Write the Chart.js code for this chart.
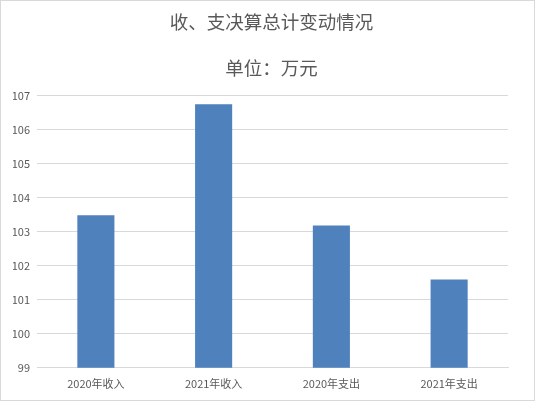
<!DOCTYPE html>
<html>
<head>
<meta charset="utf-8">
<script src="https://cdn.jsdelivr.net/npm/chart.js@4"></script>
<style>
html,body{margin:0;padding:0;background:#fff;}
#wrap{position:relative;width:533px;height:399px;border:1px solid #d9d9d9;}
</style>
</head>
<body>
<div id="wrap"><canvas id="c" width="533" height="399"></canvas></div>
<script>
const categories = ["2020年收入", "2021年收入", "2020年支出", "2021年支出"];
const values = [103.48, 106.74, 103.18, 101.59];
const yTicks = [99, 100, 101, 102, 103, 104, 105, 106, 107];
const titleText = "收、支决算总计变动情况";
const subtitleText = "单位：万元";

const FONT = '"Noto Sans CJK SC", "Microsoft YaHei", sans-serif';
new Chart(document.getElementById('c'), {
  type: 'bar',
  data: {
    labels: categories,
    datasets: [{
      data: values,
      backgroundColor: '#4F81BD',
      categoryPercentage: 1,
      barPercentage: 0.315
    }]
  },
  options: {
    responsive: false,
    animation: false,
    layout: { padding: { left: 12, right: 4, top: 0, bottom: 1 } },
    plugins: {
      legend: { display: false },
      tooltip: { enabled: false },
      title: {
        display: true, text: titleText, color: '#595959',
        font: { family: FONT, size: 18.5, weight: 'normal' },
        padding: { top: 10, bottom: 24 }
      },
      subtitle: {
        display: true, text: subtitleText, color: '#595959',
        font: { family: FONT, size: 18.5, weight: 'normal' },
        padding: { top: 0, bottom: 16 }
      }
    },
    scales: {
      x: {
        grid: { display: false, drawTicks: false },
        border: { display: true, color: '#d9d9d9' },
        ticks: { color: '#595959', font: { family: FONT, size: 11 }, padding: 9, maxRotation: 0 }
      },
      y: {
        min: yTicks[0], max: yTicks[yTicks.length - 1],
        afterBuildTicks: (axis) => { axis.ticks = yTicks.map(v => ({ value: v })); },
        afterFit: (axis) => { axis.width = 24; },
        grid: { color: '#d9d9d9', drawTicks: false },
        border: { display: false },
        ticks: { color: '#595959', font: { family: FONT, size: 11 }, padding: 7 }
      },
      y2: {
        position: 'right',
        display: true,
        min: yTicks[0], max: yTicks[yTicks.length - 1],
        afterFit: (axis) => { axis.width = 22; },
        grid: { display: false, drawTicks: false },
        border: { display: false },
        ticks: { display: false }
      }
    }
  }
});
</script>
</body>
</html>
